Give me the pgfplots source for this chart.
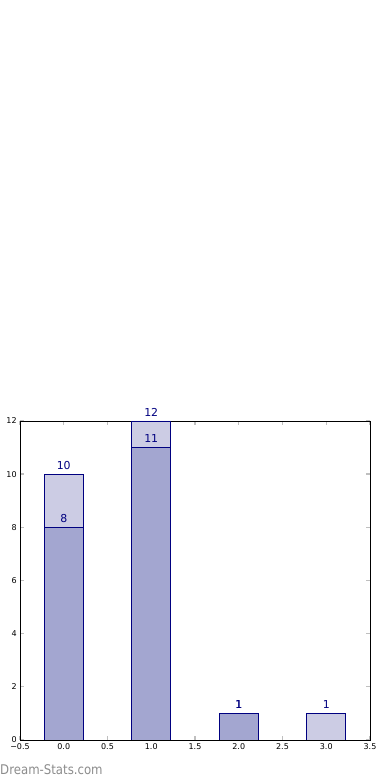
\documentclass[border=0pt]{standalone}
\usepackage{pgfplots}
\pgfplotsset{compat=1.18}
\usepackage{fontspec}
\setmainfont{DejaVu Sans}
\definecolor{edge}{RGB}{0,0,128}
\definecolor{lightbar}{RGB}{204,204,228}
\definecolor{darkbar}{RGB}{163,166,208}
\definecolor{wm}{RGB}{140,140,140}
\begin{document}
\begin{tikzpicture}[x=0.75pt,y=0.75pt]
\path[use as bounding box] (0,0) rectangle (390,780);
\begin{axis}[
  at={(15pt,30pt)}, anchor=south west,
  scale only axis, width=262.5pt, height=239.25pt,
  xmin=-0.5, xmax=3.5, ymin=0, ymax=12,
  /pgf/number format/assume math mode=true,
  xtick={-0.5,0,0.5,1,1.5,2,2.5,3,3.5},
  xticklabels={−0.5,0.0,0.5,1.0,1.5,2.0,2.5,3.0,3.5},
  ytick={0,2,4,6,8,10,12},
  yticklabels={0,2,4,6,8,10,12},
  tick align=inside,
  major tick length=3pt,
  tick style={color=black!25, line width=1pt},
  axis line style={black, line width=0.7pt},
  ticklabel style={font=\fontsize{6}{7}\selectfont, text=black},
  xticklabel style={yshift=1pt},
  yticklabel style={xshift=1pt},
  nodes near coords style={font=\fontsize{8.2}{9}\selectfont, text=edge},
]
\addplot[ybar, bar width=0.45, bar shift=0pt, fill=lightbar, draw=edge, line width=0.7pt, nodes near coords]
  coordinates {(0,10) (1,12) (2,1) (3,1)};
\addplot[ybar, bar width=0.45, bar shift=0pt, fill=darkbar, draw=edge, line width=0.7pt, nodes near coords]
  coordinates {(0,8) (1,11) (2,1)};
\end{axis}
\node[anchor=west, text=wm, font=\fontsize{10}{11}\selectfont, inner sep=0pt, xscale=0.88] at (0,10) {Dream-Stats.com};
\end{tikzpicture}
\end{document}
